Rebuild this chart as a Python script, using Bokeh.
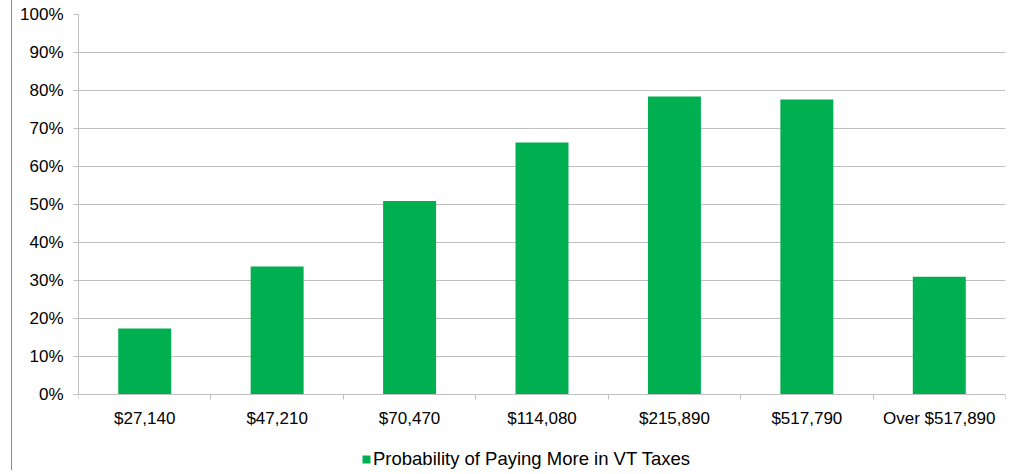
from bokeh.plotting import figure
from bokeh.models import (ColumnDataSource, Range1d, FixedTicker, NumeralTickFormatter,
                          Legend, LegendItem)
from bokeh.embed import file_html
from bokeh.resources import INLINE

categories = ["$27,140", "$47,210", "$70,470", "$114,080", "$215,890", "$517,790", "Over $517,890"]
values = [17.4, 33.7, 50.9, 66.3, 78.4, 77.6, 31.0]
series_name = "Probability of Paying More in VT Taxes"
y_ticks = [0, 10, 20, 30, 40, 50, 60, 70, 80, 90, 100]

xs = [i + 0.5 for i in range(len(categories))]
source = ColumnDataSource(dict(x=xs, value=[v / 100 for v in values], cat=categories))

FONT = "Liberation Sans"
GRID = "#BFBFBF"
PX_PER_UNIT = 380          # plot height of 0..100%
EXTRA_BELOW = 76           # room under the axis for labels and legend

p = figure(frame_width=927, frame_height=PX_PER_UNIT + EXTRA_BELOW,
           output_backend="svg", toolbar_location=None,
           x_range=Range1d(0, len(categories)),
           y_range=Range1d(-EXTRA_BELOW / PX_PER_UNIT, 1),
           min_border_left=66, min_border_top=14, min_border_right=3, min_border_bottom=0)
p.styles = {"border-left": "1px solid #8c8c8c", "margin-left": "11px"}
p.outline_line_color = None
p.background_fill_color = "white"
p.border_fill_color = "white"

r = p.vbar(x="x", top="value", width=0.4, source=source, fill_color="#00B050", line_color=None)

# x axis, pinned at 0
xa = p.xaxis[0]
xa.fixed_location = 0
xa.ticker = FixedTicker(ticks=xs, minor_ticks=list(range(len(categories) + 1)))
xa.major_label_overrides = {x: c for x, c in zip(xs, categories)}
xa.major_tick_line_color = None
xa.minor_tick_line_color = GRID
xa.minor_tick_out = 5
xa.minor_tick_in = 0
xa.axis_line_color = GRID
xa.major_label_text_font = FONT
xa.major_label_text_font_size = "17px"
xa.major_label_text_color = "#000000"
xa.major_label_standoff = 8

# y axis
ya = p.yaxis[0]
ya.bounds = (0, 1)
ya.ticker = FixedTicker(ticks=[t / 100 for t in y_ticks])
ya.formatter = NumeralTickFormatter(format="0%")
ya.major_tick_line_color = GRID
ya.major_tick_out = 5
ya.major_tick_in = 0
ya.minor_tick_line_color = None
ya.axis_line_color = GRID
ya.major_label_text_font = FONT
ya.major_label_text_font_size = "17px"
ya.major_label_text_color = "#000000"
ya.major_label_standoff = 10

p.xgrid.grid_line_color = None
p.ygrid.grid_line_color = GRID
p.ygrid.ticker = FixedTicker(ticks=[t / 100 for t in y_ticks])

legend = Legend(items=[LegendItem(label=series_name, renderers=[r])],
                location=(283, 0), orientation="horizontal",
                glyph_width=10, glyph_height=10, label_standoff=2, label_height=20,
                padding=0, margin=0,
                border_line_color=None, background_fill_alpha=0,
                label_text_font=FONT, label_text_font_size="18.5px", label_text_color="#000000")
p.add_layout(legend, "center")

open("out.html", "w").write(file_html(p, INLINE))
